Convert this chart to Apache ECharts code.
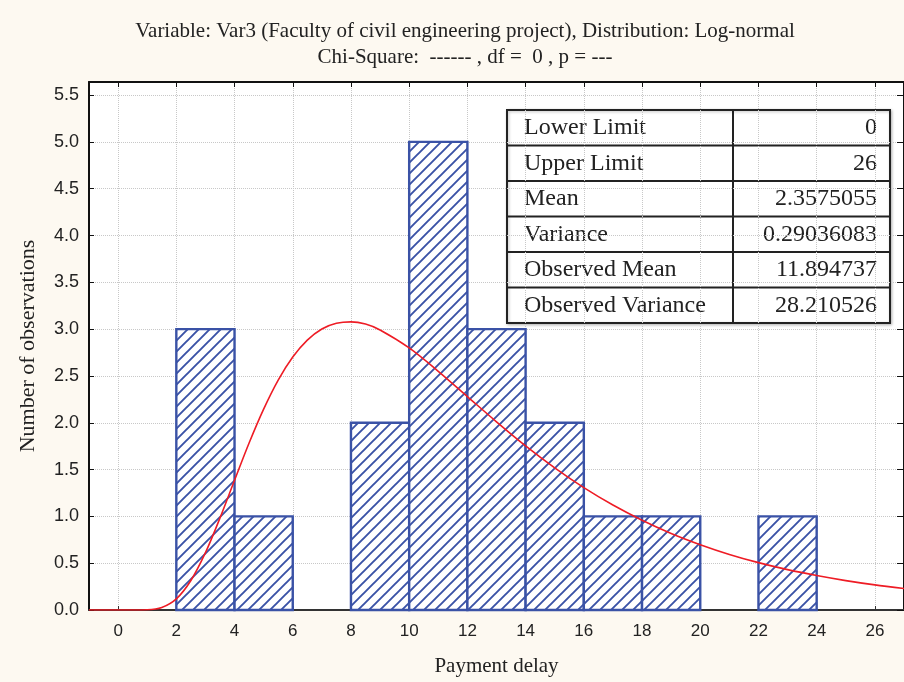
<!DOCTYPE html>
<html>
<head>
<meta charset="utf-8">
<script src="https://cdn.jsdelivr.net/npm/echarts@6/dist/echarts.min.js"></script>
<style>
  html, body { margin: 0; padding: 0; background: #fdf9f1; }
  #chart { width: 904px; height: 682px; }
</style>
</head>
<body>
<div id="chart"></div>
<script>
// histogram bins (payment delay) and observed counts
const binStart = [2, 4, 8, 10, 12, 14, 16, 18, 22];
const binEnd = [4, 6, 10, 12, 14, 16, 18, 20, 24];
const counts = [3, 1, 2, 5, 3, 2, 1, 1, 1];

// fitted log-normal curve
const curveX = [-1, 0, 0.5, 1, 1.5, 2, 2.5, 3, 3.5, 4, 4.5, 5, 5.5, 6, 6.5, 7, 7.5, 8, 8.5, 9, 10, 11, 12, 13, 14, 15, 16, 17, 18, 19, 20, 21, 22, 23, 24, 25, 26, 27];
const curveY = [0, 0, 0, 0.002, 0.027, 0.119, 0.315, 0.612, 0.983, 1.386, 1.784, 2.146, 2.456, 2.702, 2.883, 3.002, 3.062, 3.078, 3.054, 2.991, 2.799, 2.550, 2.280, 2.010, 1.753, 1.518, 1.307, 1.121, 0.959, 0.818, 0.698, 0.594, 0.506, 0.431, 0.368, 0.314, 0.268, 0.229];

const tableLabels = ['Lower Limit', 'Upper Limit', 'Mean', 'Variance', 'Observed Mean', 'Observed Variance'];
const tableValues = ['0', '26', '2.3575055', '0.29036083', '11.894737', '28.210526'];

const titleLines = [
  'Variable: Var3 (Faculty of civil engineering project), Distribution: Log-normal',
  'Chi-Square:  ------ , df =  0 , p = ---'
];

const BLUE = '#3a52a6';
const serif = '"Liberation Serif", "Times New Roman", serif';
const sans = '"Liberation Sans", Arial, sans-serif';

// diagonal hatch used to fill the bars
function makeHatch() {
  const s = 11;
  const c = document.createElement('canvas');
  c.width = s; c.height = s;
  const ctx = c.getContext('2d');
  ctx.fillStyle = '#fff';
  ctx.fillRect(0, 0, s, s);
  ctx.strokeStyle = BLUE;
  ctx.lineWidth = 1.9;
  ctx.beginPath();
  ctx.moveTo(-1, s + 1); ctx.lineTo(s + 1, -1);
  ctx.moveTo(-2, 2); ctx.lineTo(2, -2);
  ctx.moveTo(s - 2, s + 2); ctx.lineTo(s + 2, s - 2);
  ctx.stroke();
  return c;
}
const hatch = { image: makeHatch(), repeat: 'repeat' };

const barData = binStart.map((s, i) => [s, binEnd[i], counts[i]]);
const curveData = curveX.map((x, i) => [x, curveY[i]]);

// stats table drawn as graphic elements
const tLeft = 507, tTop = 110, tMid = 733, tRight = 890, rowH = 35.5;
const tableChildren = [{
  type: 'rect',
  shape: { x: tLeft, y: tTop, width: tRight - tLeft, height: rowH * tableLabels.length },
  style: { fill: '#fff', stroke: '#222', lineWidth: 2, shadowBlur: 3, shadowColor: 'rgba(0,0,0,0.25)', shadowOffsetX: 1, shadowOffsetY: 1 }
}, {
  type: 'line',
  shape: { x1: tMid, y1: tTop, x2: tMid, y2: tTop + rowH * tableLabels.length },
  style: { stroke: '#222', lineWidth: 2 }
}];
tableLabels.forEach((lab, i) => {
  if (i > 0) {
    tableChildren.push({
      type: 'line',
      shape: { x1: tLeft, y1: tTop + rowH * i, x2: tRight, y2: tTop + rowH * i },
      style: { stroke: '#222', lineWidth: 2 }
    });
  }
  const cy = tTop + rowH * i + rowH / 2;
  tableChildren.push({
    type: 'text',
    style: { text: lab, x: tLeft + 17, y: cy, verticalAlign: 'middle', font: '24px ' + serif, fill: '#222' }
  });
  tableChildren.push({
    type: 'text',
    style: { text: tableValues[i], x: tRight - 13, y: cy, align: 'right', verticalAlign: 'middle', font: '24px ' + serif, fill: '#222' }
  });
});

const chart = echarts.init(document.getElementById('chart'));

const option = {
  backgroundColor: '#fdf9f1',
  animation: false,
  grid: {
    left: 89,
    top: 82,
    width: 817,
    height: 529,
    show: true,
    backgroundColor: '#fff',
    borderWidth: 0
  },
  graphic: [
    {
      type: 'text',
      style: { text: titleLines[0], x: 465, y: 31, align: 'center', verticalAlign: 'middle', font: '21px ' + serif, fill: '#222' }
    },
    {
      type: 'text',
      style: { text: titleLines[1], x: 465, y: 57, align: 'center', verticalAlign: 'middle', font: '21px ' + serif, fill: '#222' }
    },
    { type: 'group', z: 100, children: tableChildren }
  ],
  xAxis: [
    {
      type: 'value',
      min: -1,
      max: 27,
      splitNumber: 14,
      minInterval: 2,
      maxInterval: 2,
      name: 'Payment delay',
      nameLocation: 'middle',
      nameGap: 46,
      nameTextStyle: { fontFamily: serif, fontSize: 21, color: '#222' },
      axisLine: { show: true, onZero: false, lineStyle: { color: '#333', width: 2 } },
      axisTick: { show: true, inside: true, length: 4, lineStyle: { color: '#333' } },
      axisLabel: { margin: 13, fontFamily: sans, fontSize: 17, color: '#222', showMinLabel: false, showMaxLabel: false },
      splitLine: { show: true, lineStyle: { color: '#c8c8c8', type: 'dotted', width: 1 } }
    },
    {
      type: 'value',
      position: 'top',
      min: -1,
      max: 27,
      splitNumber: 14,
      minInterval: 2,
      maxInterval: 2,
      axisLine: { show: true, onZero: false, lineStyle: { color: '#111', width: 2 } },
      axisTick: { show: true, inside: true, length: 5, lineStyle: { color: '#111' } },
      axisLabel: { show: false },
      splitLine: { show: false }
    }
  ],
  yAxis: [
    {
      type: 'value',
      min: 0,
      max: 5.64,
      interval: 0.5,
      name: 'Number of observations',
      nameLocation: 'middle',
      nameGap: 50,
      nameTextStyle: { fontFamily: serif, fontSize: 22, color: '#222' },
      axisLine: { show: true, onZero: false, lineStyle: { color: '#111', width: 2 } },
      axisTick: { show: true, inside: true, length: 5, lineStyle: { color: '#111' } },
      axisLabel: {
        margin: 10, fontFamily: sans, fontSize: 18, color: '#222', showMaxLabel: false,
        formatter: (v) => v.toFixed(1)
      },
      splitLine: { show: true, lineStyle: { color: '#c8c8c8', type: 'dotted', width: 1 } }
    },
    {
      type: 'value',
      position: 'right',
      min: 0,
      max: 5.64,
      interval: 0.5,
      axisLine: { show: true, onZero: false, lineStyle: { color: '#111', width: 2 } },
      axisTick: { show: true, inside: true, length: 7, lineStyle: { color: '#111' } },
      axisLabel: { show: false },
      splitLine: { show: false }
    }
  ],
  series: [
    {
      name: 'Observed',
      type: 'custom',
      xAxisIndex: 0,
      yAxisIndex: 0,
      data: barData,
      encode: { x: [0, 1], y: 2 },
      renderItem: function (params, api) {
        const p0 = api.coord([api.value(0), api.value(2)]);
        const p1 = api.coord([api.value(1), 0]);
        return {
          type: 'rect',
          shape: { x: p0[0], y: p0[1], width: p1[0] - p0[0], height: p1[1] - p0[1] },
          style: { fill: hatch, stroke: BLUE, lineWidth: 2.4 }
        };
      },
      z: 2
    },
    {
      name: 'Log-normal',
      type: 'line',
      xAxisIndex: 0,
      yAxisIndex: 0,
      data: curveData,
      smooth: 0.3,
      showSymbol: false,
      symbol: 'none',
      lineStyle: { color: '#ee1c25', width: 1.6 },
      z: 3
    }
  ]
};

chart.setOption(option);
</script>
</body>
</html>
